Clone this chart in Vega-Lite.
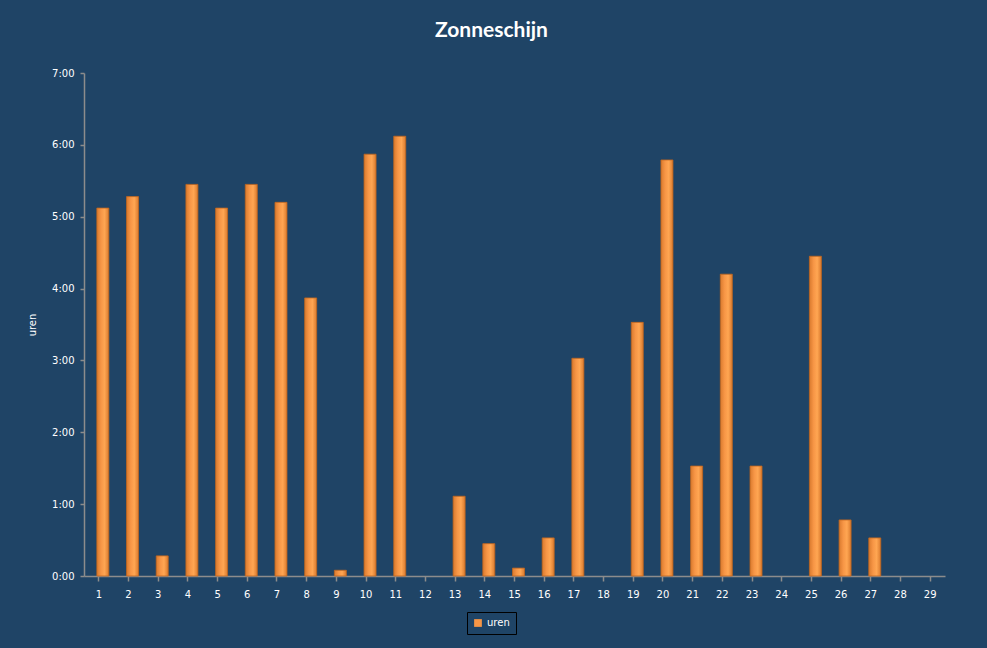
{
  "$schema": "https://vega.github.io/schema/vega-lite/v6.json",
  "autosize": {"type": "none"},
  "width": 861,
  "height": 503,
  "padding": {"left": 84, "top": 73, "right": 42, "bottom": 72},
  "background": "#1F4466",
  "title": {"text": "Zonneschijn", "color": "white", "font": "Lato", "fontSize": 21, "fontWeight": "bold", "anchor": "middle", "frame": "group", "dx": -23, "offset": 27},
  "data": {"values": [
    {"dag": "1", "uren": 5.12, "reeks": "uren"},
    {"dag": "2", "uren": 5.28, "reeks": "uren"},
    {"dag": "3", "uren": 0.28, "reeks": "uren"},
    {"dag": "4", "uren": 5.45, "reeks": "uren"},
    {"dag": "5", "uren": 5.12, "reeks": "uren"},
    {"dag": "6", "uren": 5.45, "reeks": "uren"},
    {"dag": "7", "uren": 5.2, "reeks": "uren"},
    {"dag": "8", "uren": 3.87, "reeks": "uren"},
    {"dag": "9", "uren": 0.08, "reeks": "uren"},
    {"dag": "10", "uren": 5.87, "reeks": "uren"},
    {"dag": "11", "uren": 6.12, "reeks": "uren"},
    {"dag": "12", "uren": 0, "reeks": "uren"},
    {"dag": "13", "uren": 1.11, "reeks": "uren"},
    {"dag": "14", "uren": 0.45, "reeks": "uren"},
    {"dag": "15", "uren": 0.11, "reeks": "uren"},
    {"dag": "16", "uren": 0.53, "reeks": "uren"},
    {"dag": "17", "uren": 3.03, "reeks": "uren"},
    {"dag": "18", "uren": 0, "reeks": "uren"},
    {"dag": "19", "uren": 3.53, "reeks": "uren"},
    {"dag": "20", "uren": 5.79, "reeks": "uren"},
    {"dag": "21", "uren": 1.53, "reeks": "uren"},
    {"dag": "22", "uren": 4.2, "reeks": "uren"},
    {"dag": "23", "uren": 1.53, "reeks": "uren"},
    {"dag": "24", "uren": 0, "reeks": "uren"},
    {"dag": "25", "uren": 4.45, "reeks": "uren"},
    {"dag": "26", "uren": 0.78, "reeks": "uren"},
    {"dag": "27", "uren": 0.53, "reeks": "uren"},
    {"dag": "28", "uren": 0, "reeks": "uren"},
    {"dag": "29", "uren": 0, "reeks": "uren"}
  ]},
  "mark": {"type": "bar", "width": 12, "xOffset": 4, "stroke": "#C0661E", "strokeWidth": 0.8,
    "fill": {"gradient": "linear", "x1": 0, "x2": 1, "y1": 0, "y2": 0,
      "stops": [{"offset": 0, "color": "#D97A2E"}, {"offset": 0.35, "color": "#F79646"}, {"offset": 0.65, "color": "#FFA652"}, {"offset": 1, "color": "#D97A2E"}]}},
  "encoding": {
    "x": {"field": "dag", "type": "ordinal", "sort": null, "title": null,
      "scale": {"paddingInner": 0, "paddingOuter": 0},
      "axis": {"labelAngle": 0, "labelColor": "white", "labelFont": "DejaVu Sans", "labelFontSize": 10, "labelPadding": 8,
        "domainColor": "#8C8C8C", "tickColor": "#8C8C8C", "tickSize": 5, "domainWidth": 1.5, "tickWidth": 1.5}},
    "y": {"field": "uren", "type": "quantitative", "title": "uren",
      "scale": {"domain": [0, 7]},
      "axis": {"values": [0, 1, 2, 3, 4, 5, 6, 7], "labelExpr": "datum.value + ':00'", "grid": false,
        "labelColor": "white", "labelFont": "DejaVu Sans", "labelFontSize": 10, "labelPadding": 6,
        "titleColor": "white", "titleFont": "DejaVu Sans", "titleFontSize": 10, "titleFontWeight": "normal", "titlePadding": 14,
        "domainColor": "#8C8C8C", "tickColor": "#8C8C8C", "tickSize": 4, "domainWidth": 1.5, "tickWidth": 1.5}},
    "strokeOpacity": {"condition": {"test": "datum.uren == 0", "value": 0}, "value": 1},
    "opacity": {"condition": {"test": "datum.uren == 0", "value": 0}, "value": 1},
    "color": {"field": "reeks", "type": "nominal", "scale": {"range": ["#F79646"]},
      "legend": {"title": null, "orient": "none", "legendX": 383, "legendY": 539, "direction": "horizontal", "symbolType": "square", "symbolSize": 60,
        "labelColor": "white", "labelFont": "DejaVu Sans", "labelFontSize": 10, "strokeColor": "black", "padding": 6, "symbolStrokeWidth": 0, "symbolOpacity": 1}}
  },
  "config": {"view": {"stroke": null}}
}
